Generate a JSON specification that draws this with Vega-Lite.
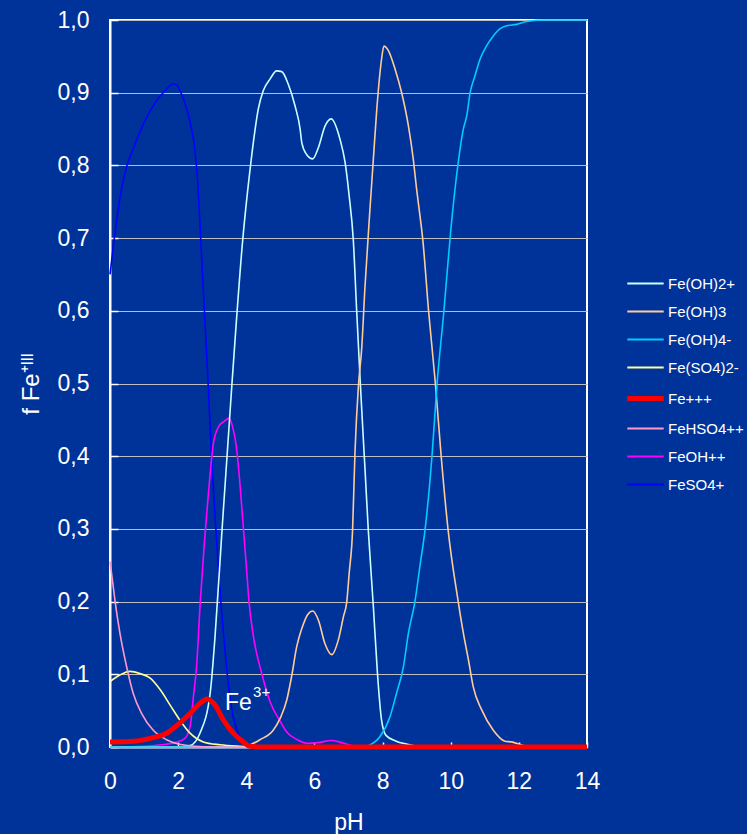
{
  "$schema": "https://vega.github.io/schema/vega-lite/v6.json",
  "width": 477,
  "height": 727,
  "autosize": "none",
  "padding": {"left": 110, "top": 20, "right": 160, "bottom": 87},
  "background": "#003399",
  "config": {
    "view": {"stroke": "#FFFFFF", "strokeWidth": 2},
    "font": "Liberation Sans",
    "axis": {
      "domainColor": "#FFFFFF",
      "domainWidth": 2,
      "tickColor": "#FFFFFF",
      "tickWidth": 1.5,
      "labelColor": "#FFFFFF",
      "labelFont": "Liberation Sans",
      "labelFontSize": 23,
      "labelFlush": false,
      "titleColor": "#FFFFFF",
      "titleFont": "Liberation Sans",
      "titleFontSize": 23,
      "titleFontWeight": "normal",
      "gridColor": "#BEBEBE",
      "gridWidth": 1,
      "gridOpacity": 1
    },
    "legend": {
      "labelColor": "#FFFFFF",
      "labelFont": "Liberation Sans",
      "labelFontSize": 15,
      "padding": 0
    }
  },
  "layer": [
    {
      "data": {
        "values": [
          {"s": "FeSO4+", "pH": 0, "f": 0.65},
          {"s": "FeSO4+", "pH": 0.1, "f": 0.69},
          {"s": "FeSO4+", "pH": 0.2, "f": 0.726},
          {"s": "FeSO4+", "pH": 0.35, "f": 0.77},
          {"s": "FeSO4+", "pH": 0.5, "f": 0.80},
          {"s": "FeSO4+", "pH": 0.7, "f": 0.825},
          {"s": "FeSO4+", "pH": 0.85, "f": 0.843},
          {"s": "FeSO4+", "pH": 1.1, "f": 0.868},
          {"s": "FeSO4+", "pH": 1.35, "f": 0.888},
          {"s": "FeSO4+", "pH": 1.6, "f": 0.902},
          {"s": "FeSO4+", "pH": 1.85, "f": 0.912},
          {"s": "FeSO4+", "pH": 1.95, "f": 0.911},
          {"s": "FeSO4+", "pH": 2.1, "f": 0.898},
          {"s": "FeSO4+", "pH": 2.35, "f": 0.859},
          {"s": "FeSO4+", "pH": 2.49, "f": 0.822},
          {"s": "FeSO4+", "pH": 2.57, "f": 0.78},
          {"s": "FeSO4+", "pH": 2.65, "f": 0.71},
          {"s": "FeSO4+", "pH": 2.77, "f": 0.60},
          {"s": "FeSO4+", "pH": 2.88, "f": 0.50},
          {"s": "FeSO4+", "pH": 2.98, "f": 0.40},
          {"s": "FeSO4+", "pH": 3.08, "f": 0.32},
          {"s": "FeSO4+", "pH": 3.18, "f": 0.247},
          {"s": "FeSO4+", "pH": 3.34, "f": 0.151},
          {"s": "FeSO4+", "pH": 3.49, "f": 0.08},
          {"s": "FeSO4+", "pH": 3.6, "f": 0.045},
          {"s": "FeSO4+", "pH": 3.75, "f": 0.02},
          {"s": "FeSO4+", "pH": 3.9, "f": 0.008},
          {"s": "FeSO4+", "pH": 4.1, "f": 0.001},
          {"s": "FeSO4+", "pH": 5, "f": 0},
          {"s": "FeSO4+", "pH": 14, "f": 0},

          {"s": "FeOH++", "pH": 0, "f": 0},
          {"s": "FeOH++", "pH": 1.0, "f": 0.001},
          {"s": "FeOH++", "pH": 1.5, "f": 0.003},
          {"s": "FeOH++", "pH": 1.9, "f": 0.006},
          {"s": "FeOH++", "pH": 2.2, "f": 0.012},
          {"s": "FeOH++", "pH": 2.35, "f": 0.028},
          {"s": "FeOH++", "pH": 2.45, "f": 0.07},
          {"s": "FeOH++", "pH": 2.54, "f": 0.11},
          {"s": "FeOH++", "pH": 2.65, "f": 0.2},
          {"s": "FeOH++", "pH": 2.77, "f": 0.281},
          {"s": "FeOH++", "pH": 2.88, "f": 0.344},
          {"s": "FeOH++", "pH": 3.03, "f": 0.416},
          {"s": "FeOH++", "pH": 3.18, "f": 0.44},
          {"s": "FeOH++", "pH": 3.35, "f": 0.448},
          {"s": "FeOH++", "pH": 3.49, "f": 0.452},
          {"s": "FeOH++", "pH": 3.6, "f": 0.44},
          {"s": "FeOH++", "pH": 3.7, "f": 0.416},
          {"s": "FeOH++", "pH": 3.8, "f": 0.37},
          {"s": "FeOH++", "pH": 3.9, "f": 0.31},
          {"s": "FeOH++", "pH": 4.0, "f": 0.25},
          {"s": "FeOH++", "pH": 4.08, "f": 0.2},
          {"s": "FeOH++", "pH": 4.2, "f": 0.155},
          {"s": "FeOH++", "pH": 4.46, "f": 0.1},
          {"s": "FeOH++", "pH": 4.7, "f": 0.062},
          {"s": "FeOH++", "pH": 5.0, "f": 0.035},
          {"s": "FeOH++", "pH": 5.2, "f": 0.02},
          {"s": "FeOH++", "pH": 5.5, "f": 0.01},
          {"s": "FeOH++", "pH": 5.8, "f": 0.005},
          {"s": "FeOH++", "pH": 6.1, "f": 0.006},
          {"s": "FeOH++", "pH": 6.5, "f": 0.009},
          {"s": "FeOH++", "pH": 6.8, "f": 0.006},
          {"s": "FeOH++", "pH": 7.1, "f": 0.002},
          {"s": "FeOH++", "pH": 7.5, "f": 0},
          {"s": "FeOH++", "pH": 14, "f": 0},

          {"s": "Fe(OH)2+", "pH": 0, "f": 0},
          {"s": "Fe(OH)2+", "pH": 2.0, "f": 0},
          {"s": "Fe(OH)2+", "pH": 2.35, "f": 0.002},
          {"s": "Fe(OH)2+", "pH": 2.64, "f": 0.019},
          {"s": "Fe(OH)2+", "pH": 2.94, "f": 0.074},
          {"s": "Fe(OH)2+", "pH": 3.08, "f": 0.15},
          {"s": "Fe(OH)2+", "pH": 3.29, "f": 0.3},
          {"s": "Fe(OH)2+", "pH": 3.58, "f": 0.5},
          {"s": "Fe(OH)2+", "pH": 3.9, "f": 0.7},
          {"s": "Fe(OH)2+", "pH": 4.1, "f": 0.79},
          {"s": "Fe(OH)2+", "pH": 4.26, "f": 0.85},
          {"s": "Fe(OH)2+", "pH": 4.35, "f": 0.877},
          {"s": "Fe(OH)2+", "pH": 4.5, "f": 0.903},
          {"s": "Fe(OH)2+", "pH": 4.7, "f": 0.919},
          {"s": "Fe(OH)2+", "pH": 4.89, "f": 0.93},
          {"s": "Fe(OH)2+", "pH": 5.04, "f": 0.929},
          {"s": "Fe(OH)2+", "pH": 5.23, "f": 0.912},
          {"s": "Fe(OH)2+", "pH": 5.43, "f": 0.882},
          {"s": "Fe(OH)2+", "pH": 5.58, "f": 0.85},
          {"s": "Fe(OH)2+", "pH": 5.63, "f": 0.831},
          {"s": "Fe(OH)2+", "pH": 5.77, "f": 0.815},
          {"s": "Fe(OH)2+", "pH": 5.95, "f": 0.809},
          {"s": "Fe(OH)2+", "pH": 6.12, "f": 0.825},
          {"s": "Fe(OH)2+", "pH": 6.31, "f": 0.854},
          {"s": "Fe(OH)2+", "pH": 6.49, "f": 0.864},
          {"s": "Fe(OH)2+", "pH": 6.75, "f": 0.836},
          {"s": "Fe(OH)2+", "pH": 6.9, "f": 0.804},
          {"s": "Fe(OH)2+", "pH": 7.02, "f": 0.758},
          {"s": "Fe(OH)2+", "pH": 7.14, "f": 0.698},
          {"s": "Fe(OH)2+", "pH": 7.24, "f": 0.60},
          {"s": "Fe(OH)2+", "pH": 7.34, "f": 0.506},
          {"s": "Fe(OH)2+", "pH": 7.48, "f": 0.386},
          {"s": "Fe(OH)2+", "pH": 7.58, "f": 0.299},
          {"s": "Fe(OH)2+", "pH": 7.73, "f": 0.193},
          {"s": "Fe(OH)2+", "pH": 7.85, "f": 0.101},
          {"s": "Fe(OH)2+", "pH": 7.97, "f": 0.037},
          {"s": "Fe(OH)2+", "pH": 8.1, "f": 0.016},
          {"s": "Fe(OH)2+", "pH": 8.4, "f": 0.008},
          {"s": "Fe(OH)2+", "pH": 8.7, "f": 0.004},
          {"s": "Fe(OH)2+", "pH": 9.0, "f": 0.001},
          {"s": "Fe(OH)2+", "pH": 9.5, "f": 0},
          {"s": "Fe(OH)2+", "pH": 14, "f": 0},

          {"s": "Fe(OH)3", "pH": 0, "f": 0},
          {"s": "Fe(OH)3", "pH": 3.9, "f": 0},
          {"s": "Fe(OH)3", "pH": 4.0, "f": 0.001},
          {"s": "Fe(OH)3", "pH": 4.4, "f": 0.01},
          {"s": "Fe(OH)3", "pH": 4.79, "f": 0.023},
          {"s": "Fe(OH)3", "pH": 5.0, "f": 0.04},
          {"s": "Fe(OH)3", "pH": 5.19, "f": 0.065},
          {"s": "Fe(OH)3", "pH": 5.33, "f": 0.097},
          {"s": "Fe(OH)3", "pH": 5.48, "f": 0.138},
          {"s": "Fe(OH)3", "pH": 5.63, "f": 0.163},
          {"s": "Fe(OH)3", "pH": 5.8, "f": 0.182},
          {"s": "Fe(OH)3", "pH": 5.95, "f": 0.187},
          {"s": "Fe(OH)3", "pH": 6.12, "f": 0.174},
          {"s": "Fe(OH)3", "pH": 6.31, "f": 0.142},
          {"s": "Fe(OH)3", "pH": 6.51, "f": 0.127},
          {"s": "Fe(OH)3", "pH": 6.7, "f": 0.147},
          {"s": "Fe(OH)3", "pH": 6.85, "f": 0.179},
          {"s": "Fe(OH)3", "pH": 6.95, "f": 0.2},
          {"s": "Fe(OH)3", "pH": 7.02, "f": 0.239},
          {"s": "Fe(OH)3", "pH": 7.12, "f": 0.299},
          {"s": "Fe(OH)3", "pH": 7.19, "f": 0.405},
          {"s": "Fe(OH)3", "pH": 7.29, "f": 0.496},
          {"s": "Fe(OH)3", "pH": 7.39, "f": 0.55},
          {"s": "Fe(OH)3", "pH": 7.48, "f": 0.63},
          {"s": "Fe(OH)3", "pH": 7.63, "f": 0.74},
          {"s": "Fe(OH)3", "pH": 7.73, "f": 0.809},
          {"s": "Fe(OH)3", "pH": 7.83, "f": 0.877},
          {"s": "Fe(OH)3", "pH": 7.97, "f": 0.946},
          {"s": "Fe(OH)3", "pH": 8.04, "f": 0.964},
          {"s": "Fe(OH)3", "pH": 8.17, "f": 0.958},
          {"s": "Fe(OH)3", "pH": 8.37, "f": 0.932},
          {"s": "Fe(OH)3", "pH": 8.56, "f": 0.9},
          {"s": "Fe(OH)3", "pH": 8.76, "f": 0.854},
          {"s": "Fe(OH)3", "pH": 8.9, "f": 0.809},
          {"s": "Fe(OH)3", "pH": 9.0, "f": 0.767},
          {"s": "Fe(OH)3", "pH": 9.1, "f": 0.73},
          {"s": "Fe(OH)3", "pH": 9.18, "f": 0.698},
          {"s": "Fe(OH)3", "pH": 9.35, "f": 0.6},
          {"s": "Fe(OH)3", "pH": 9.55, "f": 0.5},
          {"s": "Fe(OH)3", "pH": 9.72, "f": 0.4},
          {"s": "Fe(OH)3", "pH": 9.92, "f": 0.3},
          {"s": "Fe(OH)3", "pH": 10.22, "f": 0.2},
          {"s": "Fe(OH)3", "pH": 10.37, "f": 0.157},
          {"s": "Fe(OH)3", "pH": 10.52, "f": 0.12},
          {"s": "Fe(OH)3", "pH": 10.66, "f": 0.083},
          {"s": "Fe(OH)3", "pH": 10.91, "f": 0.051},
          {"s": "Fe(OH)3", "pH": 11.25, "f": 0.023},
          {"s": "Fe(OH)3", "pH": 11.59, "f": 0.008},
          {"s": "Fe(OH)3", "pH": 11.79, "f": 0.007},
          {"s": "Fe(OH)3", "pH": 12.13, "f": 0.002},
          {"s": "Fe(OH)3", "pH": 12.5, "f": 0},
          {"s": "Fe(OH)3", "pH": 14, "f": 0},

          {"s": "Fe(OH)4-", "pH": 0, "f": 0},
          {"s": "Fe(OH)4-", "pH": 7.5, "f": 0},
          {"s": "Fe(OH)4-", "pH": 7.6, "f": 0.002},
          {"s": "Fe(OH)4-", "pH": 7.92, "f": 0.014},
          {"s": "Fe(OH)4-", "pH": 8.22, "f": 0.042},
          {"s": "Fe(OH)4-", "pH": 8.41, "f": 0.074},
          {"s": "Fe(OH)4-", "pH": 8.61, "f": 0.11},
          {"s": "Fe(OH)4-", "pH": 8.76, "f": 0.157},
          {"s": "Fe(OH)4-", "pH": 8.95, "f": 0.2},
          {"s": "Fe(OH)4-", "pH": 9.1, "f": 0.25},
          {"s": "Fe(OH)4-", "pH": 9.25, "f": 0.3},
          {"s": "Fe(OH)4-", "pH": 9.45, "f": 0.4},
          {"s": "Fe(OH)4-", "pH": 9.6, "f": 0.5},
          {"s": "Fe(OH)4-", "pH": 9.8, "f": 0.6},
          {"s": "Fe(OH)4-", "pH": 10.0, "f": 0.71},
          {"s": "Fe(OH)4-", "pH": 10.22, "f": 0.804},
          {"s": "Fe(OH)4-", "pH": 10.37, "f": 0.85},
          {"s": "Fe(OH)4-", "pH": 10.47, "f": 0.868},
          {"s": "Fe(OH)4-", "pH": 10.57, "f": 0.9},
          {"s": "Fe(OH)4-", "pH": 10.71, "f": 0.923},
          {"s": "Fe(OH)4-", "pH": 10.86, "f": 0.946},
          {"s": "Fe(OH)4-", "pH": 11.06, "f": 0.965},
          {"s": "Fe(OH)4-", "pH": 11.25, "f": 0.978},
          {"s": "Fe(OH)4-", "pH": 11.45, "f": 0.988},
          {"s": "Fe(OH)4-", "pH": 11.64, "f": 0.992},
          {"s": "Fe(OH)4-", "pH": 11.94, "f": 0.994},
          {"s": "Fe(OH)4-", "pH": 12.23, "f": 0.998},
          {"s": "Fe(OH)4-", "pH": 12.8, "f": 1.0},
          {"s": "Fe(OH)4-", "pH": 14, "f": 1.0},

          {"s": "Fe(SO4)2-", "pH": 0, "f": 0.09},
          {"s": "Fe(SO4)2-", "pH": 0.29, "f": 0.099},
          {"s": "Fe(SO4)2-", "pH": 0.59, "f": 0.104},
          {"s": "Fe(SO4)2-", "pH": 0.88, "f": 0.101},
          {"s": "Fe(SO4)2-", "pH": 1.17, "f": 0.095},
          {"s": "Fe(SO4)2-", "pH": 1.47, "f": 0.079},
          {"s": "Fe(SO4)2-", "pH": 1.76, "f": 0.058},
          {"s": "Fe(SO4)2-", "pH": 2.05, "f": 0.037},
          {"s": "Fe(SO4)2-", "pH": 2.35, "f": 0.019},
          {"s": "Fe(SO4)2-", "pH": 2.74, "f": 0.007},
          {"s": "Fe(SO4)2-", "pH": 3.23, "f": 0.003},
          {"s": "Fe(SO4)2-", "pH": 3.8, "f": 0.001},
          {"s": "Fe(SO4)2-", "pH": 4.5, "f": 0},
          {"s": "Fe(SO4)2-", "pH": 14, "f": 0},

          {"s": "FeHSO4++", "pH": 0, "f": 0.255},
          {"s": "FeHSO4++", "pH": 0.07, "f": 0.23},
          {"s": "FeHSO4++", "pH": 0.15, "f": 0.2},
          {"s": "FeHSO4++", "pH": 0.29, "f": 0.157},
          {"s": "FeHSO4++", "pH": 0.49, "f": 0.11},
          {"s": "FeHSO4++", "pH": 0.68, "f": 0.074},
          {"s": "FeHSO4++", "pH": 0.93, "f": 0.046},
          {"s": "FeHSO4++", "pH": 1.27, "f": 0.023},
          {"s": "FeHSO4++", "pH": 1.66, "f": 0.01},
          {"s": "FeHSO4++", "pH": 2.0, "f": 0.004},
          {"s": "FeHSO4++", "pH": 2.5, "f": 0.001},
          {"s": "FeHSO4++", "pH": 3, "f": 0},
          {"s": "FeHSO4++", "pH": 14, "f": 0},

          {"s": "Fe+++", "pH": 0, "f": 0.007},
          {"s": "Fe+++", "pH": 0.68, "f": 0.008},
          {"s": "Fe+++", "pH": 1.27, "f": 0.013},
          {"s": "Fe+++", "pH": 1.66, "f": 0.019},
          {"s": "Fe+++", "pH": 2.05, "f": 0.033},
          {"s": "Fe+++", "pH": 2.35, "f": 0.046},
          {"s": "Fe+++", "pH": 2.64, "f": 0.06},
          {"s": "Fe+++", "pH": 2.85, "f": 0.066},
          {"s": "Fe+++", "pH": 3.0, "f": 0.062},
          {"s": "Fe+++", "pH": 3.08, "f": 0.058},
          {"s": "Fe+++", "pH": 3.33, "f": 0.037},
          {"s": "Fe+++", "pH": 3.62, "f": 0.019},
          {"s": "Fe+++", "pH": 3.91, "f": 0.007},
          {"s": "Fe+++", "pH": 4.1, "f": 0.001},
          {"s": "Fe+++", "pH": 4.5, "f": 0},
          {"s": "Fe+++", "pH": 14, "f": 0}
        ]
      },
      "mark": {"type": "line", "interpolate": "monotone", "clip": false},
      "encoding": {
        "x": {
          "field": "pH",
          "type": "quantitative",
          "scale": {"domain": [0, 14], "nice": false, "zero": false},
          "axis": {
            "values": [0, 2, 4, 6, 8, 10, 12, 14],
            "grid": false,
            "title": "pH",
            "tickSize": -5,
            "labelPadding": 28,
            "titleBaseline": "alphabetic",
            "titleY": 82
          }
        },
        "y": {
          "field": "f",
          "type": "quantitative",
          "scale": {"domain": [0, 1], "nice": false},
          "axis": {
            "values": [0, 0.1, 0.2, 0.3, 0.4, 0.5, 0.6, 0.7, 0.8, 0.9, 1.0],
            "grid": true,
            "labelExpr": "replace(format(datum.value, '.1f'), '.', ',')",
            "title": "f Fe⁺ᴵᴵᴵ",
            "titleFontSize": 24,
            "tickSize": -8,
            "labelPadding": 29,
            "titleX": -67
          }
        },
        "color": {
          "field": "s",
          "type": "nominal",
          "scale": {
            "domain": ["Fe(OH)2+", "Fe(OH)3", "Fe(OH)4-", "Fe(SO4)2-", "Fe+++", "FeHSO4++", "FeOH++", "FeSO4+"],
            "range": ["#CCFFFF", "#FFCC99", "#00CCFF", "#FFFF99", "#FF0000", "#FF99CC", "#FF00FF", "#0000FF"]
          },
          "legend": {
            "title": null,
            "orient": "none",
            "legendX": 528,
            "legendY": 256,
            "symbolType": "M-1.3,0H1.3",
            "symbolSize": 784,
            "labelOffset": 15,
            "rowPadding": 12,
            "encode": {
              "symbols": {
                "update": {
                  "strokeWidth": {"signal": "datum.value === 'Fe+++' ? 5 : 2"}
                }
              }
            }
          }
        },
        "strokeWidth": {
          "condition": {"test": "datum.s === 'Fe+++'", "value": 5},
          "value": 1.6
        }
      }
    },
    {
      "data": {"values": [{"t": "Fe"}]},
      "mark": {"type": "text", "align": "left", "baseline": "alphabetic", "fontSize": 23, "color": "#FFFFFF", "font": "Liberation Sans"},
      "encoding": {
        "text": {"field": "t"},
        "x": {"datum": 3.375},
        "y": {"datum": 0.051}
      }
    },
    {
      "data": {"values": [{"t": "3+"}]},
      "mark": {"type": "text", "align": "left", "baseline": "alphabetic", "fontSize": 15, "color": "#FFFFFF", "font": "Liberation Sans"},
      "encoding": {
        "text": {"field": "t"},
        "x": {"datum": 4.2},
        "y": {"datum": 0.069}
      }
    }
  ]
}
